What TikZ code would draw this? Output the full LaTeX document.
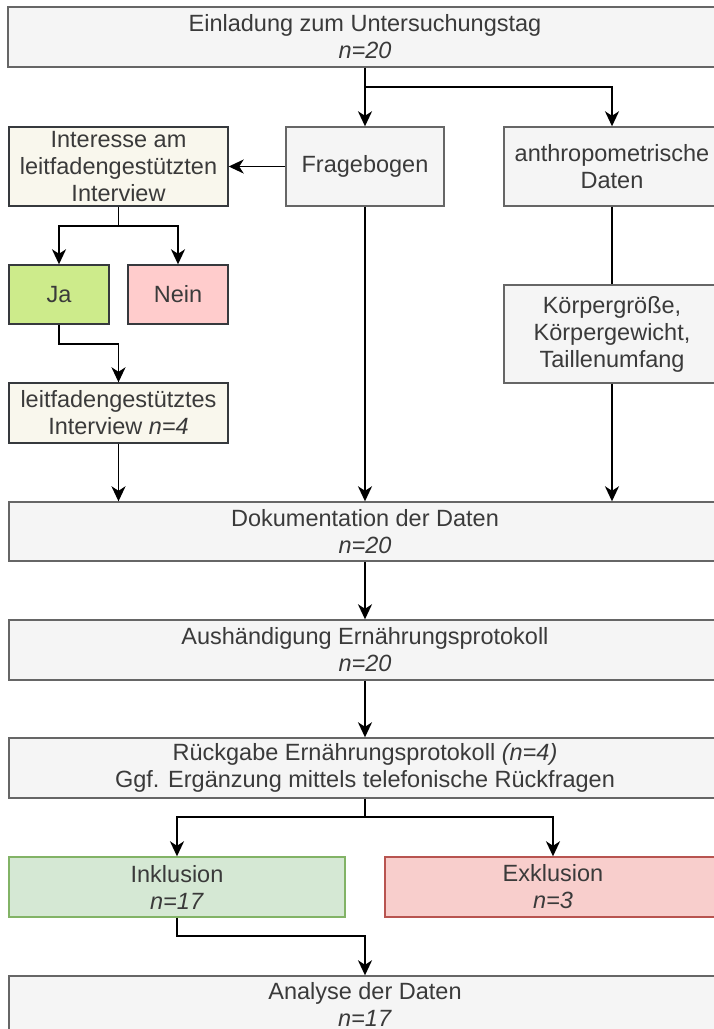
\documentclass[tikz,border=0pt]{standalone}
\usepackage{fontspec}
\setmainfont{Liberation Sans}
\usetikzlibrary{arrows.meta}
\definecolor{grayfill}{HTML}{F5F5F5}
\definecolor{graystroke}{HTML}{666666}
\definecolor{txt}{HTML}{3A3A3A}
\definecolor{beige}{HTML}{F9F7ED}
\definecolor{darkstroke}{HTML}{36393D}
\definecolor{jafill}{HTML}{CDEB8B}
\definecolor{neinfill}{HTML}{FFCCCC}
\definecolor{inkfill}{HTML}{D5E8D4}
\definecolor{inkstroke}{HTML}{82B366}
\definecolor{exkfill}{HTML}{F8CECC}
\definecolor{exkstroke}{HTML}{B85450}
\tikzset{
  base/.style={draw, line width=1.4pt, inner sep=0pt, align=center, text=txt,
    font=\fontsize{23.5}{27}\selectfont},
  graybox/.style={base, draw=graystroke, fill=grayfill},
  beigebox/.style={base, draw=darkstroke, fill=beige},
  jabox/.style={base, draw=darkstroke, fill=jafill},
  neinbox/.style={base, draw=darkstroke, fill=neinfill},
  inkbox/.style={base, draw=inkstroke, fill=inkfill},
  exkbox/.style={base, draw=exkstroke, fill=exkfill},
  conn/.style={line width=1.9pt, black},
  arr/.style={conn, -{Stealth[length=15pt,width=14pt,inset=4.5pt]}},
}
\begin{document}
\begin{tikzpicture}[x=1pt,y=-1pt]
\useasboundingbox (0,0) rectangle (713,1029);
\fill[white] (0,0) rectangle (713,1029);
% nodes
\node[graybox, minimum width=714pt, minimum height=60pt] (top) at (365,37) {Einladung zum Untersuchungstag\\\textit{n=20}};
\node[beigebox, minimum width=219pt, minimum height=79pt] (int) at (118.5,166.5) {Interesse am\\leitfadengestützten\\Interview};
\node[graybox, minimum width=158pt, minimum height=79pt] (fb) at (365,166.5) {Fragebogen};
\node[graybox, minimum width=216pt, minimum height=79pt] (anth) at (612,166.5) {anthropometrische\\Daten};
\node[jabox, minimum width=100pt, minimum height=59pt] (ja) at (59,294.5) {Ja};
\node[neinbox, minimum width=100pt, minimum height=59pt] (nein) at (178,294.5) {Nein};
\node[beigebox, minimum width=219pt, minimum height=60pt] (leit) at (118.5,413) {leitfadengestütztes\\Interview \textit{n=4}};
\node[graybox, minimum width=216pt, minimum height=98pt] (koer) at (612,334) {Körpergröße,\\Körpergewicht,\\Taillenumfang};
\node[graybox, minimum width=712pt, minimum height=59pt] (doku) at (365,531.5) {Dokumentation der Daten\\\textit{n=20}};
\node[graybox, minimum width=712pt, minimum height=60pt] (aus) at (365,650) {Aushändigung Ernährungsprotokoll\\\textit{n=20}};
\node[graybox, minimum width=712pt, minimum height=60pt] (rueck) at (365,768) {Rückgabe Ernährungsprotokoll \textit{(n=4)}\\Ggf. Ergänzung mittels telefonische Rückfragen};
\node[inkbox, minimum width=336pt, minimum height=60pt] (inkl) at (177,887) {Inklusion\\\textit{n=17}};
\node[exkbox, minimum width=336pt, minimum height=60pt] (exkl) at (553,887) {Exklusion\\\textit{n=3}};
\node[graybox, minimum width=712pt, minimum height=56pt] (ana) at (365,1004) {Analyse der Daten\\\textit{n=17}};
% junctions
\coordinate (j1) at (365,87);
\coordinate (j2) at (118.5,226);
\coordinate (j3) at (88,344);
\coordinate (j4) at (365,817);
\coordinate (j5) at (365,936);
% connectors
\draw[arr] (top.south) -- (fb.north);
\draw[arr] (j1) -| (anth.north);
\draw[arr] (fb.west) -- (int.east);
\draw[conn] (int.south) -- (j2);
\draw[arr] (j2) -| (ja.north);
\draw[arr] (j2) -| (nein.north);
\draw[arr] (ja.south) |- (j3) -| (leit.north);
\draw[arr] (leit.south) -- (leit.south |- doku.north);
\draw[arr] (fb.south) -- (doku.north);
\draw[conn] (anth.south) -- (koer.north);
\draw[arr] (koer.south) -- (koer.south |- doku.north);
\draw[arr] (doku.south) -- (aus.north);
\draw[arr] (aus.south) -- (rueck.north);
\draw[conn] (rueck.south) -- (j4);
\draw[arr] (j4) -| (inkl.north);
\draw[arr] (j4) -| (exkl.north);
\draw[arr] (inkl.south) |- (j5) -- (ana.north);
\end{tikzpicture}
\end{document}
